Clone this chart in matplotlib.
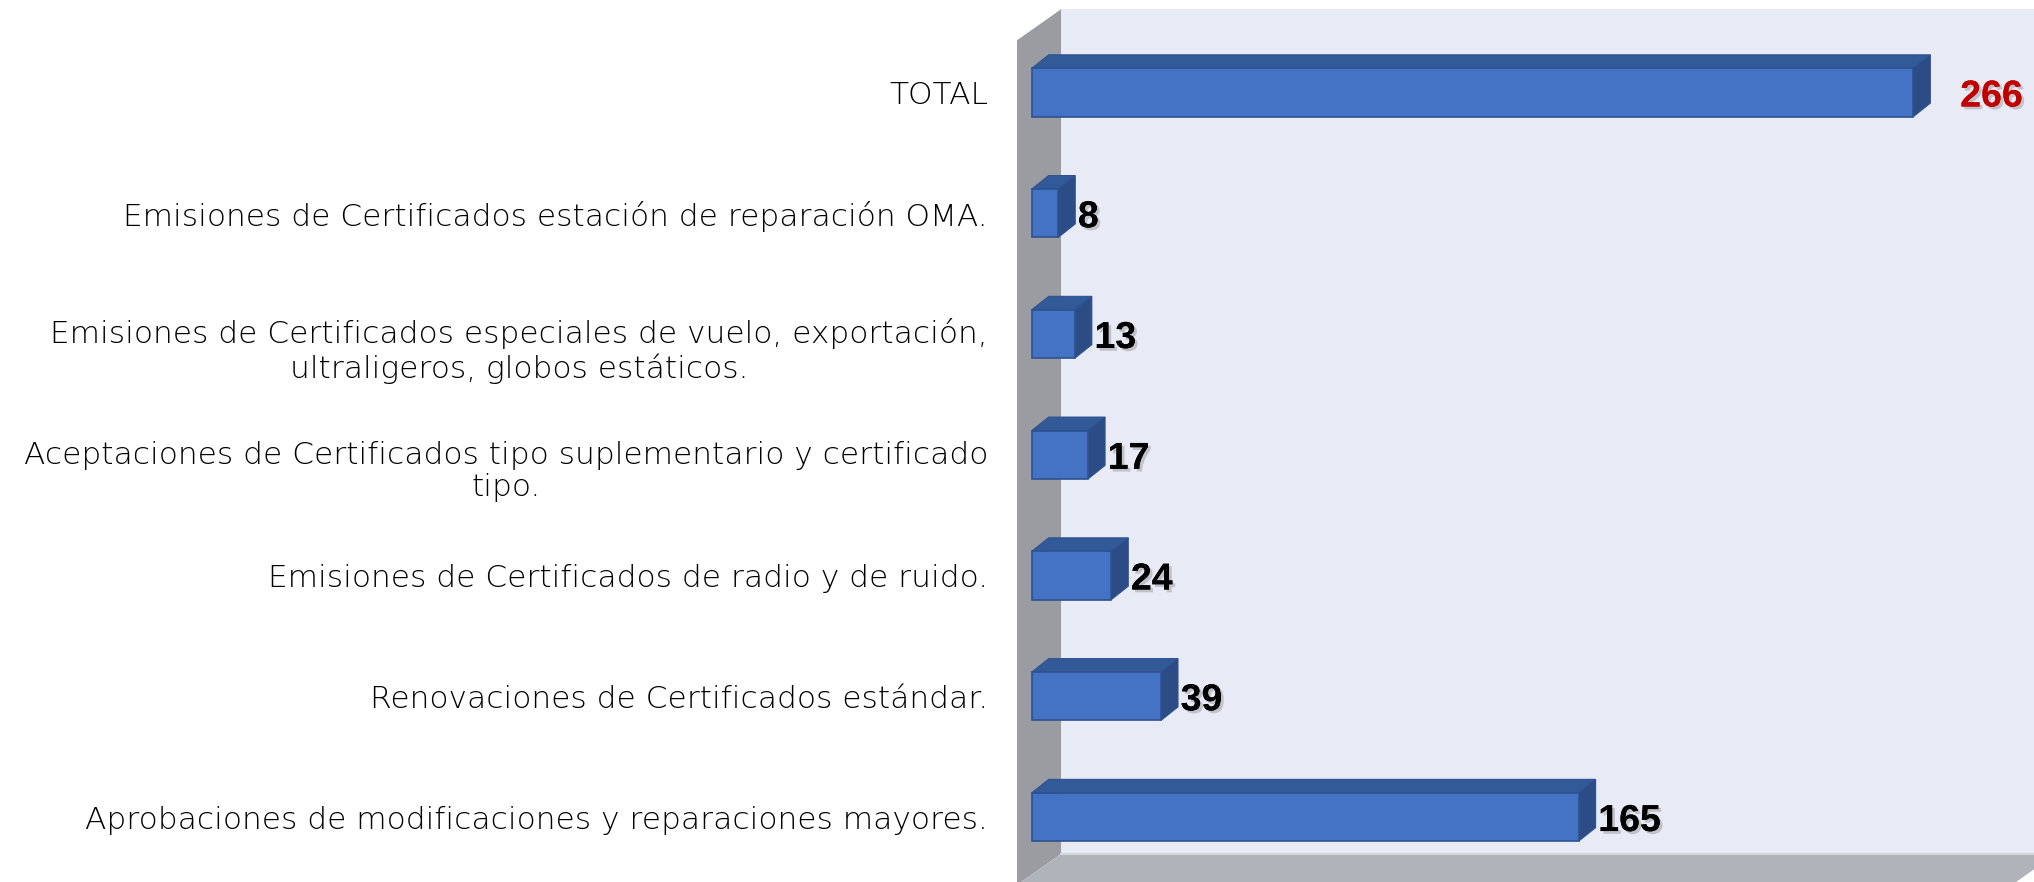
import matplotlib
matplotlib.use("Agg")
import matplotlib.pyplot as plt
import matplotlib.patheffects as pe
import matplotlib.transforms as mtransforms
from matplotlib.patches import Polygon, Rectangle
import numpy as np

# data, bottom to top
categories = [
    "Aprobaciones de modificaciones y reparaciones mayores.",
    "Renovaciones de Certificados estándar.",
    "Emisiones de Certificados de radio y de ruido.",
    "Aceptaciones de Certificados tipo suplementario y certificado\ntipo.",
    "Emisiones de Certificados especiales de vuelo, exportación,\nultraligeros, globos estáticos.",
    "Emisiones de Certificados estación de reparación OMA.",
    "TOTAL",
]
values = [165, 39, 24, 17, 13, 8, 266]

# colours
front_c = "#4472C4"
top_c = "#335A98"
side_c = "#2C4C86"
edge_c = "#2F528F"
wall_c = "#9B9CA2"
floor_c = "#B0B3BA"
back_c = "#E8EAF5"

W, H = 2034, 882
fig = plt.figure(figsize=(W / 100, H / 100), dpi=100)
fig.patch.set_facecolor("white")

ax_left_px = 1017
ax = fig.add_axes([ax_left_px / W, 0, 1 - ax_left_px / W, 1])
ax.set_xlim(-4.44, 302.4)
ax.set_ylim(-0.538, 6.766)
ax.set_facecolor("none")
for s in ax.spines.values():
    s.set_visible(False)

# 3d box depth (data units)
wdx, wdy = 13.3, 0.257      # walls
bdx, bdy = 5.13, 0.112      # bars
back_x = 8.84
wall_top = 6.689
floor_y = -0.306
right_x = 309

# back wall
ax.add_patch(Rectangle((back_x, floor_y), right_x - back_x, wall_top - floor_y,
                       facecolor=back_c, edgecolor="none", zorder=0))
# left wall
ax.add_patch(Polygon([(back_x - wdx, floor_y - wdy), (back_x, floor_y),
                      (back_x, wall_top), (back_x - wdx, wall_top - wdy)],
                     closed=True, facecolor=wall_c, edgecolor="none", zorder=1))
# floor
ax.add_patch(Polygon([(back_x, floor_y), (right_x, floor_y),
                      (right_x - wdx, floor_y - wdy), (back_x - wdx, floor_y - wdy)],
                     closed=True, facecolor=floor_c, edgecolor="none", zorder=1))
ax.plot([back_x, right_x], [floor_y, floor_y], color="#D3D5DC", lw=1.5, zorder=1)

pos = np.arange(len(categories))
h = 0.4
ax.barh(pos, values, height=h, color=front_c, edgecolor=edge_c, linewidth=1.2, zorder=4)

for k, v in zip(pos, values):
    t = k + h / 2
    b = k - h / 2
    ax.add_patch(Polygon([(0, t), (v, t), (v + bdx, t + bdy), (bdx, t + bdy)],
                         closed=True, facecolor=top_c, edgecolor=edge_c, lw=0.8, zorder=3))
    ax.add_patch(Polygon([(v, b), (v, t), (v + bdx, t + bdy), (v + bdx, b + bdy)],
                         closed=True, facecolor=side_c, edgecolor=edge_c, lw=0.8, zorder=3))

shadow = [pe.withSimplePatchShadow(offset=(2, -2), shadow_rgbFace="#888888", alpha=0.4), pe.Normal()]
for k, v, c in zip(pos, values, categories):
    if c == "TOTAL":
        ax.text(v + bdx + 9, k, str(v), color="#C00000", fontsize=27, fontweight="bold",
                family="Liberation Sans", va="center_baseline",
                ha="left", path_effects=shadow, zorder=6)
    else:
        ax.text(v + bdx + 0.8, k, str(v), color="black", fontsize=27, fontweight="bold",
                family="Liberation Sans", va="center_baseline",
                ha="left", path_effects=shadow, zorder=6)

# category labels
ax.set_xticks([])
ax.set_yticks([])
trans = mtransforms.blended_transform_factory(ax.transAxes, ax.transData)
for k, c in zip(pos, categories):
    if "\n" in c:
        y, va = k - 0.14, "center"
    else:
        y, va = k, "center_baseline"
    ax.text(-0.0285, y, c, transform=trans, ha="right", va=va, multialignment="center",
            fontsize=22.5, family="DejaVu Sans", fontweight="light", color="black",
            linespacing=1.15, clip_on=False)

fig.savefig("out.png", dpi=100)
